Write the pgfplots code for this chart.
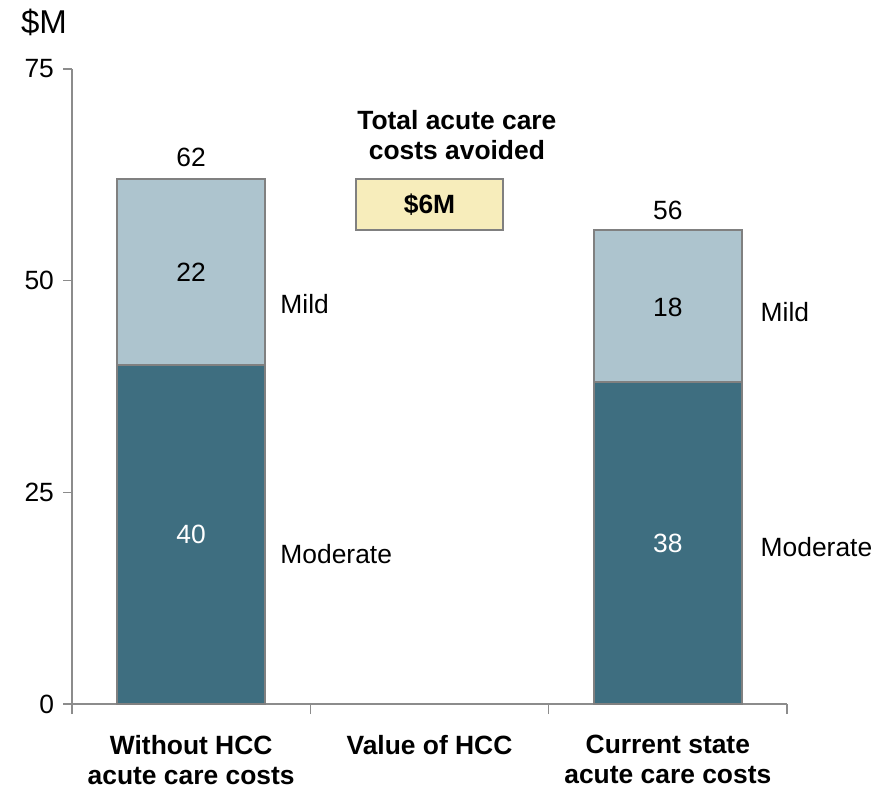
\documentclass[border=0pt]{standalone}
\usepackage{pgfplots}
\pgfplotsset{compat=1.18}
\usepackage{fontspec}
\setmainfont{Liberation Sans}

\definecolor{moderate}{HTML}{3E6E80}
\definecolor{mild}{HTML}{ADC4CE}
\definecolor{saved}{HTML}{F7EDBB}
\definecolor{edge}{HTML}{808080}
\definecolor{axisgray}{HTML}{8C8C8C}

\newcommand{\basefont}{\fontsize{13.2pt}{15pt}\selectfont}

\begin{document}
\begin{tikzpicture}[font=\basefont]
\begin{axis}[
  name=ax,
  scale only axis,
  width=357.5pt, height=317.5pt,
  ybar stacked,
  bar width=0.62,
  xmin=-0.5, xmax=2.5,
  ymin=0, ymax=75,
  axis x line*=bottom,
  axis y line*=left,
  axis line style={axisgray, line width=0.8pt},
  tick style={axisgray, line width=0.8pt},
  tick align=outside,
  xtick={0,1,2},
  xticklabels={{Without HCC\\acute care costs},{Value of HCC},{Current state\\acute care costs}},
  xticklabel style={align=center, font=\basefont\bfseries, yshift=-7.5pt},
  major x tick style={draw=none},
  minor xtick={-0.5,0.5,1.5,2.5},
  minor tick length=5pt,
  ytick={0,25,50,75},
  major tick length=4.5pt,
  yticklabel style={xshift=-1pt},
  /pgf/number format/assume math mode=true,
  clip=false,
]
% invisible base that lifts the waterfall step
\addplot[fill=none, draw=none] coordinates {(0,0) (1,56) (2,0)};
% moderate cases
\addplot[fill=moderate, draw=edge, line width=1pt] coordinates {(0,40) (1,0) (2,38)};
% mild cases
\addplot[fill=mild, draw=edge, line width=1pt] coordinates {(0,22) (1,0) (2,18)};
% costs avoided
\addplot[fill=saved, draw=edge, line width=1pt] coordinates {(0,0) (1,6) (2,0)};

% dotted connectors between the bars
\addplot[sharp plot, draw=axisgray, line width=0.5pt, dotted] coordinates {(0.31,62) (0.69,62)};
\addplot[sharp plot, draw=axisgray, line width=0.5pt, dotted] coordinates {(1.31,56) (1.69,56)};

% anchor points for the labels, drawn after the bars
\coordinate (t1) at (axis cs:0,62.6);
\coordinate (m1) at (axis cs:0,51);
\coordinate (d1) at (axis cs:0,20);
\coordinate (t3) at (axis cs:2,56.4);
\coordinate (m3) at (axis cs:2,46.8);
\coordinate (d3) at (axis cs:2,19);
\coordinate (sv) at (axis cs:1,59);
\coordinate (ttl) at (axis cs:1.115,67.2);
\coordinate (n1a) at (axis cs:0.345,47.2);
\coordinate (n1b) at (axis cs:0.345,17.7);
\coordinate (n3a) at (axis cs:2.36,46.3);
\coordinate (n3b) at (axis cs:2.36,18.5);
\end{axis}

\node[anchor=south] at (t1) {62};
\node at (m1) {22};
\node[text=white] at (d1) {40};
\node[anchor=south] at (t3) {56};
\node at (m3) {18};
\node[text=white] at (d3) {38};
\node[font=\basefont\bfseries] at (sv) {\$6M};
\node[align=center, font=\basefont\bfseries] at (ttl) {Total acute care\\costs avoided};

\node[anchor=west] at (n1a) {Mild};
\node[anchor=west] at (n1b) {Moderate};
\node[anchor=west] at (n3a) {Mild};
\node[anchor=west] at (n3b) {Moderate};

\node[anchor=west, font=\fontsize{16.5pt}{18pt}\selectfont] at ([shift={(-29pt,23.5pt)}]ax.north west) {\$M};
\pgfresetboundingbox
\useasboundingbox ([shift={(-36pt,-42.5pt)}]ax.south west) rectangle ([shift={(410pt,352pt)}]ax.south west);
\end{tikzpicture}
\end{document}
